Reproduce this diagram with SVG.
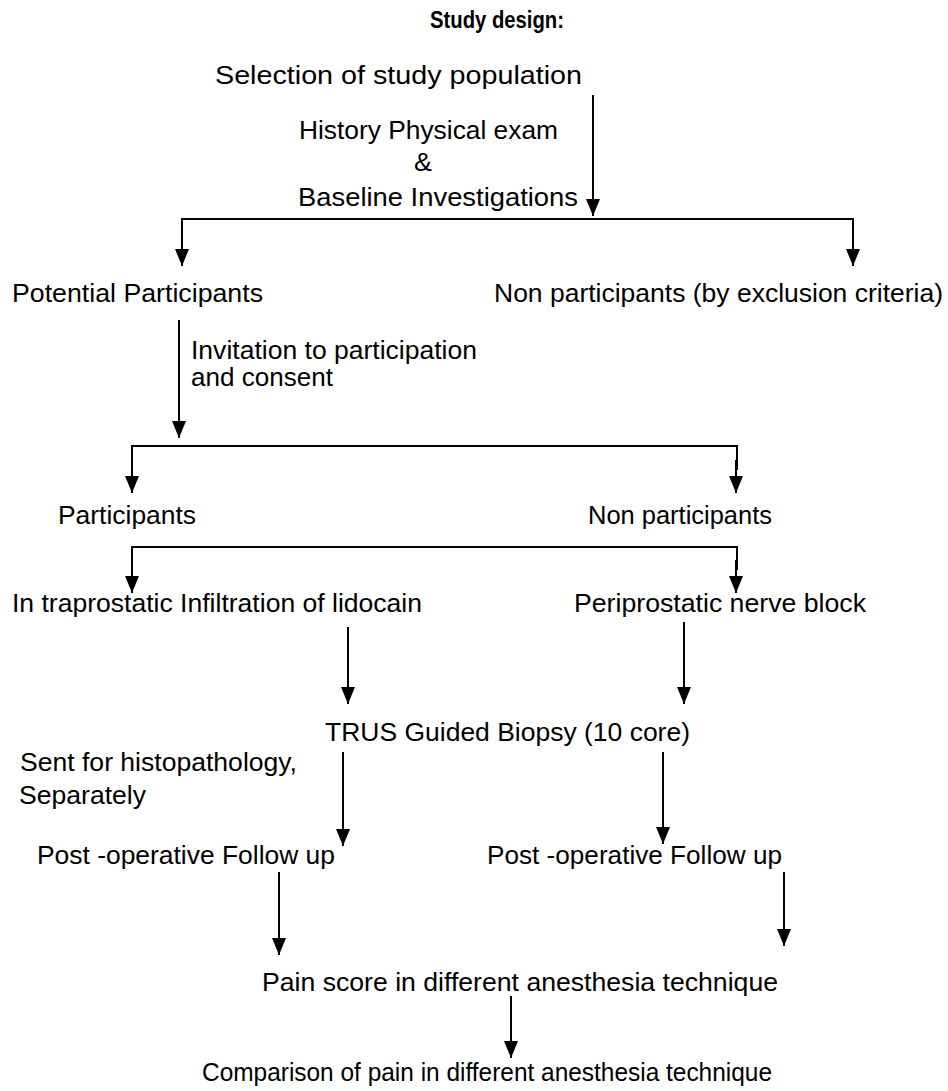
<svg xmlns="http://www.w3.org/2000/svg" width="948" height="1091" viewBox="0 0 948 1091">
<style>
text{font-family:"Liberation Sans",Arial,sans-serif;font-size:25px;fill:#000}
.t{font-weight:bold;font-size:24px}
.c line,.c path{stroke:#000;stroke-width:2;fill:none}
</style>
<defs>
<marker id="a" markerWidth="17" markerHeight="14" refX="17" refY="7" orient="auto" markerUnits="userSpaceOnUse" viewBox="0 0 17 14">
<path d="M0,0 L17,7 L0,14 Z" fill="#000"/>
</marker>
</defs>
<rect width="948" height="1091" fill="#fff"/>
<g id="title"><text class="t" x="430" y="28" textLength="134" lengthAdjust="spacingAndGlyphs">Study design:</text></g>
<g id="n1"><text x="215" y="84" textLength="367" lengthAdjust="spacingAndGlyphs">Selection of study population</text></g>
<g id="l1"><text x="299" y="139" textLength="259" lengthAdjust="spacingAndGlyphs">History Physical exam</text><text x="414" y="171" textLength="18" lengthAdjust="spacingAndGlyphs">&amp;</text><text x="298" y="206" textLength="280" lengthAdjust="spacingAndGlyphs">Baseline  Investigations</text></g>
<g id="n2"><text x="12" y="302" textLength="251" lengthAdjust="spacingAndGlyphs">Potential Participants</text></g>
<g id="n3"><text x="494" y="302" textLength="449" lengthAdjust="spacingAndGlyphs">Non participants (by exclusion criteria)</text></g>
<g id="l2"><text x="191" y="359" textLength="286" lengthAdjust="spacingAndGlyphs">Invitation to participation</text><text x="191" y="386" textLength="142" lengthAdjust="spacingAndGlyphs">and consent</text></g>
<g id="n4"><text x="58" y="524" textLength="138" lengthAdjust="spacingAndGlyphs">Participants</text></g>
<g id="n5"><text x="588" y="524" textLength="184" lengthAdjust="spacingAndGlyphs">Non participants</text></g>
<g id="n6"><text x="12" y="612" textLength="410" lengthAdjust="spacingAndGlyphs">In traprostatic Infiltration of lidocain</text></g>
<g id="n7"><text x="574" y="612" textLength="292" lengthAdjust="spacingAndGlyphs">Periprostatic nerve block</text></g>
<g id="n8"><text x="325" y="741" textLength="365" lengthAdjust="spacingAndGlyphs">TRUS Guided Biopsy (10 core)</text></g>
<g id="l3"><text x="20" y="771" textLength="277" lengthAdjust="spacingAndGlyphs">Sent for histopathology,</text><text x="19" y="804" textLength="127" lengthAdjust="spacingAndGlyphs">Separately</text></g>
<g id="n9"><text x="37" y="864" textLength="298" lengthAdjust="spacingAndGlyphs">Post -operative Follow up</text></g>
<g id="n10"><text x="487" y="864" textLength="295" lengthAdjust="spacingAndGlyphs">Post -operative Follow up</text></g>
<g id="n11"><text x="262" y="991" textLength="516" lengthAdjust="spacingAndGlyphs">Pain score in different anesthesia technique</text></g>
<g id="n12"><text x="202" y="1081" textLength="570" lengthAdjust="spacingAndGlyphs">Comparison of pain  in different anesthesia technique</text></g>
<g id="connectors" class="c">
<line x1="593" y1="95" x2="593" y2="216" marker-end="url(#a)"/>
<path d="M182,250 V219 H853 V250" />
<line x1="182" y1="240" x2="182" y2="266" marker-end="url(#a)"/>
<line x1="853" y1="240" x2="853" y2="266" marker-end="url(#a)"/>
<line x1="179" y1="320" x2="179" y2="438" marker-end="url(#a)"/>
<path d="M132,470 V446 H737 V470"/>
<line x1="132" y1="460" x2="132" y2="493" marker-end="url(#a)"/>
<line x1="736" y1="460" x2="736" y2="493" marker-end="url(#a)"/>
<path d="M132,570 V547 H737 V570"/>
<line x1="132" y1="560" x2="132" y2="593" marker-end="url(#a)"/>
<line x1="736" y1="560" x2="736" y2="593" marker-end="url(#a)"/>
<line x1="348" y1="627" x2="348" y2="704" marker-end="url(#a)"/>
<line x1="684" y1="622" x2="684" y2="704" marker-end="url(#a)"/>
<line x1="343" y1="752" x2="343" y2="846" marker-end="url(#a)"/>
<line x1="663" y1="752" x2="663" y2="844" marker-end="url(#a)"/>
<line x1="279" y1="872" x2="279" y2="955" marker-end="url(#a)"/>
<line x1="784" y1="872" x2="784" y2="946" marker-end="url(#a)"/>
<line x1="511" y1="996" x2="511" y2="1058" marker-end="url(#a)"/>
</g>
</svg>
